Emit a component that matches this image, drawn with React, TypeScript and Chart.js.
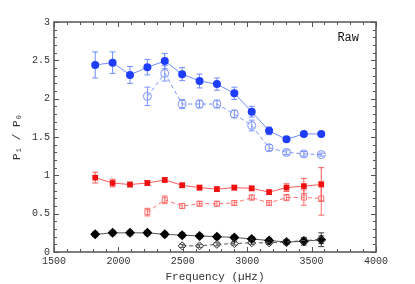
import React, { useEffect, useRef } from "react";
import { Chart, registerables } from "chart.js";
Chart.register(...registerables);

const freqs = [1820, 1955, 2090, 2225, 2360, 2495, 2630, 2765, 2900, 3035, 3170, 3305, 3440, 3575];
const blueFilled = [2.44, 2.47, 2.31, 2.41, 2.49, 2.32, 2.23, 2.19, 2.07, 1.83, 1.58, 1.47, 1.54, 1.54];
const blueFilledErr = [0.17, 0.14, 0.11, 0.1, 0.1, 0.085, 0.09, 0.08, 0.08, 0.07, 0.05, 0.03, 0.03, 0.02];
const blueOpenFreqs = [2225, 2360, 2495, 2630, 2765, 2900, 3035, 3170, 3305, 3440, 3575];
const blueOpen = [2.03, 2.33, 1.93, 1.93, 1.93, 1.8, 1.65, 1.36, 1.3, 1.28, 1.27];
const blueOpenErr = [0.12, 0.1, 0.06, 0.05, 0.05, 0.05, 0.07, 0.04, 0.03, 0.03, 0.02];
const redFilled = [0.97, 0.9, 0.88, 0.9, 0.94, 0.87, 0.84, 0.82, 0.84, 0.83, 0.78, 0.84, 0.86, 0.88];
const redFilledErr = [0.07, 0.05, 0.03, 0.03, 0.03, 0.03, 0.03, 0.03, 0.03, 0.03, 0.03, 0.05, 0.1, 0.22];
const redOpenFreqs = [2225, 2360, 2495, 2630, 2765, 2900, 3035, 3170, 3305, 3440, 3575];
const redOpen = [0.52, 0.68, 0.6, 0.63, 0.63, 0.64, 0.71, 0.64, 0.71, 0.71, 0.7];
const redOpenErr = [0.05, 0.05, 0.03, 0.03, 0.03, 0.03, 0.03, 0.03, 0.04, 0.1, 0.22];
const blackFilled = [0.23, 0.25, 0.25, 0.25, 0.23, 0.22, 0.21, 0.2, 0.19, 0.17, 0.15, 0.13, 0.14, 0.16];
const blackFilledErr = [0.03, 0.03, 0.03, 0.03, 0.03, 0.03, 0.03, 0.03, 0.03, 0.03, 0.03, 0.03, 0.05, 0.09];
const blackOpenFreqs = [2495, 2630, 2765, 2900, 3035, 3170, 3305, 3440, 3575];
const blackOpen = [0.08, 0.08, 0.1, 0.11, 0.12, 0.12, 0.13, 0.15, 0.16];
const blackOpenErr = [0.02, 0.02, 0.02, 0.02, 0.02, 0.02, 0.02, 0.03, 0.05];

const xTicks = [1500, 2000, 2500, 3000, 3500, 4000];
const yTicks = [0, 0.5, 1, 1.5, 2, 2.5, 3];

const pts = (xs: number[], ys: number[]) => xs.map((x, i) => ({ x, y: ys[i] }));

const MONO = "'Liberation Mono', 'DejaVu Sans Mono', monospace";

const errorBarPlugin = {
  id: "errorBars",
  beforeDatasetsDraw(chart: any) {
    const ctx = chart.ctx;
    const xs = chart.scales.x;
    const ys = chart.scales.y;
    chart.data.datasets.forEach((ds: any) => {
      if (!ds.errs) return;
      ctx.save();
      ctx.strokeStyle = ds.errColor;
      ctx.lineWidth = 1;
      ds.data.forEach((p: any, i: number) => {
        const e = ds.errs[i];
        const px = xs.getPixelForValue(p.x);
        const y1 = ys.getPixelForValue(p.y - e);
        const y2 = ys.getPixelForValue(p.y + e);
        ctx.beginPath();
        ctx.moveTo(px, y1);
        ctx.lineTo(px, y2);
        ctx.moveTo(px - 3, y1);
        ctx.lineTo(px + 3, y1);
        ctx.moveTo(px - 3, y2);
        ctx.lineTo(px + 3, y2);
        ctx.stroke();
      });
      ctx.restore();
    });
  },
};

const framePlugin = {
  id: "frame",
  afterDraw(chart: any) {
    const ctx = chart.ctx;
    const { left, right, top, bottom } = chart.chartArea;
    const xs = chart.scales.x;
    const ys = chart.scales.y;
    ctx.save();
    ctx.strokeStyle = "#555";
    ctx.lineWidth = 1;
    ctx.beginPath();
    for (let v = 1500; v <= 4000; v += 100) {
      const px = Math.round(xs.getPixelForValue(v)) + 0.5;
      const len = v % 500 === 0 ? 5 : 3;
      ctx.moveTo(px, bottom);
      ctx.lineTo(px, bottom - len);
      ctx.moveTo(px, top);
      ctx.lineTo(px, top + len);
    }
    for (let k = 0; k <= 30; k++) {
      const v = k / 10;
      const py = Math.round(ys.getPixelForValue(v)) + 0.5;
      const len = k % 5 === 0 ? 5 : 3;
      ctx.moveTo(left, py);
      ctx.lineTo(left + len, py);
      ctx.moveTo(right, py);
      ctx.lineTo(right - len, py);
    }
    ctx.stroke();
    ctx.lineWidth = 1.5;
    ctx.strokeRect(left, top, right - left, bottom - top);
    ctx.fillStyle = "#111";
    ctx.font = "12px " + MONO;
    ctx.textAlign = "right";
    ctx.textBaseline = "middle";
    ctx.fillText("Raw", right - 17, top + 16);
    ctx.restore();
  },
};

export default function App() {
  const ref = useRef<HTMLCanvasElement>(null);
  useEffect(() => {
    const blue = "#1f3dff";
    const blueLine = "#6f8cff";
    const blueOpenC = "#7b93ff";
    const red = "#f01010";
    const redLine = "#ff5a5a";
    const redOpenC = "#ff6e6e";
    const chart = new Chart(ref.current!, {
      type: "line",
      data: {
        datasets: [
          {
            data: pts(blueOpenFreqs, blueOpen),
            errs: blueOpenErr,
            errColor: blueOpenC,
            borderColor: blueOpenC,
            borderWidth: 1,
            borderDash: [4, 3],
            pointStyle: "circle",
            pointRadius: 4,
            pointBorderColor: blueOpenC,
            pointBackgroundColor: "rgba(255,255,255,0)",
            pointBorderWidth: 1,
          },
          {
            data: pts(freqs, blueFilled),
            errs: blueFilledErr,
            errColor: blueLine,
            borderColor: blueLine,
            borderWidth: 1,
            pointStyle: "circle",
            pointRadius: 4,
            pointBorderColor: blue,
            pointBackgroundColor: blue,
            pointBorderWidth: 0,
          },
          {
            data: pts(redOpenFreqs, redOpen),
            errs: redOpenErr,
            errColor: redOpenC,
            borderColor: redOpenC,
            borderWidth: 1,
            borderDash: [4, 3],
            pointStyle: "rect",
            pointRadius: 3.5,
            pointBorderColor: redOpenC,
            pointBackgroundColor: "rgba(255,255,255,0)",
            pointBorderWidth: 1,
          },
          {
            data: pts(freqs, redFilled),
            errs: redFilledErr,
            errColor: redLine,
            borderColor: redLine,
            borderWidth: 1,
            pointStyle: "rect",
            pointRadius: 4,
            pointBorderColor: red,
            pointBackgroundColor: red,
            pointBorderWidth: 0,
          },
          {
            data: pts(blackOpenFreqs, blackOpen),
            errs: blackOpenErr,
            errColor: "#555",
            borderColor: "#555",
            borderWidth: 1,
            borderDash: [4, 3],
            pointStyle: "rectRot",
            pointRadius: 4,
            pointBorderColor: "#333",
            pointBackgroundColor: "rgba(255,255,255,0)",
            pointBorderWidth: 1,
          },
          {
            data: pts(freqs, blackFilled),
            errs: blackFilledErr,
            errColor: "#444",
            borderColor: "#555",
            borderWidth: 1,
            pointStyle: "rectRot",
            pointRadius: 5,
            pointBorderColor: "#000",
            pointBackgroundColor: "#000",
            pointBorderWidth: 0,
          },
        ] as any,
      },
      options: {
        animation: false,
        responsive: false,
        events: [],
        layout: { padding: { left: 0, right: 39, top: 22, bottom: 0 } },
        plugins: { legend: { display: false }, tooltip: { enabled: false } },
        scales: {
          x: {
            type: "linear",
            min: 1500,
            max: 4000,
            afterBuildTicks: (s: any) => {
              s.ticks = xTicks.map((v) => ({ value: v }));
            },
            afterFit: (s: any) => {
              s.height = 32;
            },
            grid: { display: false, drawTicks: false },
            border: { display: false },
            ticks: {
              maxRotation: 0,
              autoSkip: false,
              padding: 3,
              color: "#333",
              font: { family: MONO, size: 10 },
              callback: (v: any) => String(v),
            },
            title: {
              display: true,
              text: "Frequency (µHz)",
              color: "#333",
              padding: { top: 0, bottom: 0 },
              font: { family: MONO, size: 11 },
            },
          },
          y: {
            type: "linear",
            min: 0,
            max: 3,
            afterBuildTicks: (s: any) => {
              s.ticks = yTicks.map((v) => ({ value: v }));
            },
            afterFit: (s: any) => {
              s.width = 54;
            },
            grid: { display: false, drawTicks: false },
            border: { display: false },
            ticks: {
              padding: 4,
              color: "#333",
              font: { family: MONO, size: 10 },
              callback: (v: any) => String(v),
            },
            title: {
              display: true,
              text: "P₁ / P₀",
              color: "#333",
              padding: { top: 10, bottom: 4 },
              font: { family: MONO, size: 11 },
            },
          },
        },
      } as any,
      plugins: [errorBarPlugin, framePlugin],
    });
    return () => chart.destroy();
  }, []);
  return (
    <div style={{ position: "fixed", left: 0, top: 0, width: 415, height: 284, background: "#fff" }}>
      <canvas ref={ref} width={415} height={284} style={{ width: 415, height: 284, display: "block" }} />
    </div>
  );
}
